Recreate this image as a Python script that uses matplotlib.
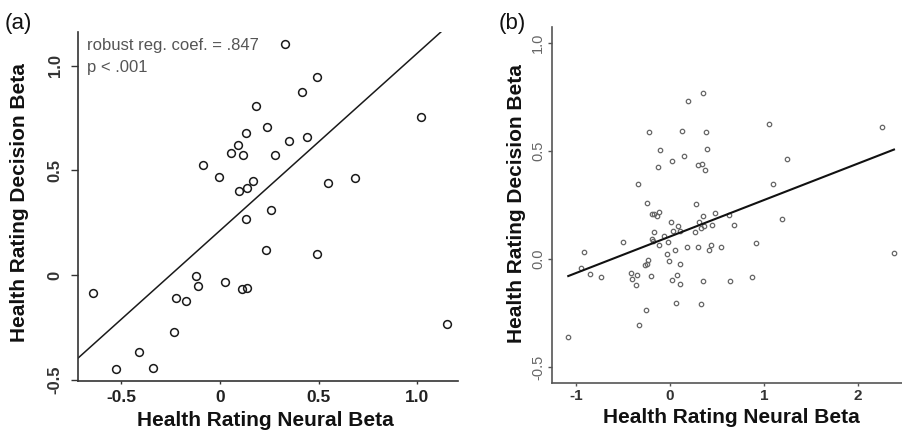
import matplotlib
matplotlib.use("Agg")
import matplotlib.pyplot as plt

plt.rcParams['font.family'] = ['Liberation Sans', 'DejaVu Sans']

# panel (a): health rating neural beta vs decision beta
a_x = [0.329, 0.493, 0.416, 0.182, 1.017, 0.237, 0.130, 0.441, 0.351, 0.090,
       0.054, 0.118, 0.280, -0.088, -0.007, 0.686, 0.549, 0.167, 0.135, 0.095,
       0.257, 0.130, 0.232, 0.492, -0.120, -0.112, 0.025, -0.645, 0.112, 0.137,
       -0.225, -0.174, 1.149, -0.235, -0.411, -0.527, -0.341]
a_y = [1.102, 0.946, 0.876, 0.806, 0.753, 0.706, 0.678, 0.658, 0.639, 0.623,
       0.583, 0.572, 0.572, 0.524, 0.468, 0.462, 0.438, 0.449, 0.414, 0.403,
       0.309, 0.266, 0.118, 0.099, -0.005, -0.053, -0.033, -0.086, -0.067, -0.064,
       -0.108, -0.123, -0.233, -0.274, -0.368, -0.448, -0.444]
a_slope = 0.847
a_intercept = 0.213

# panel (b)
b_x = [0.351, 0.195, 1.053, 2.259, -0.227, 0.124, 0.380, -0.106, 0.390, 1.243,
       0.019, 0.154, 0.301, 0.337, 0.372, -0.124, -0.343, 1.098, -0.241, 0.273,
       -0.195, -0.167, -0.141, -0.120, 0.354, 0.476, 0.628, 1.191, 0.011, 0.090,
       0.312, 0.333, 0.362, 0.444, 0.676, -0.165, 0.030, 0.106, 0.269, -0.500,
       -0.191, -0.181, -0.066, -0.018, -0.122, -0.912, -0.027, 0.053, 0.178, 0.301,
       0.436, 0.418, 0.545, 0.912, 2.383, -0.229, -0.248, -0.261, -0.009, 0.106,
       -0.950, -0.849, -0.736, -0.412, -0.351, -0.399, -0.202, 0.074, 0.024, 0.106,
       -0.359, 0.356, 0.638, 0.872, 0.066, 0.333, -0.250, -0.332, -1.082]
b_y = [0.770, 0.733, 0.623, 0.609, 0.589, 0.594, 0.588, 0.506, 0.509, 0.462,
       0.452, 0.475, 0.434, 0.441, 0.412, 0.427, 0.349, 0.346, 0.259, 0.256,
       0.208, 0.207, 0.199, 0.216, 0.197, 0.213, 0.202, 0.187, 0.169, 0.155,
       0.173, 0.144, 0.152, 0.156, 0.159, 0.126, 0.131, 0.131, 0.127, 0.080,
       0.091, 0.085, 0.106, 0.077, 0.066, 0.032, 0.025, 0.040, 0.056, 0.056,
       0.065, 0.043, 0.054, 0.074, 0.026, -0.004, -0.021, -0.028, -0.011, -0.023,
       -0.040, -0.071, -0.085, -0.067, -0.073, -0.091, -0.079, -0.074, -0.097, -0.116,
       -0.120, -0.103, -0.104, -0.083, -0.205, -0.207, -0.237, -0.304, -0.361]
b_slope = 0.169
b_intercept = 0.104

a_xticks = [-0.5, 0, 0.5, 1.0]
a_xticklabels = ['-0.5', '0', '0.5', '1.0']
a_yticks = [-0.5, 0, 0.5, 1.0]
a_yticklabels = ['-0.5', '0', '0.5', '1.0']
b_xticks = [-1, 0, 1, 2]
b_yticks = [-0.5, 0.0, 0.5, 1.0]
b_yticklabels = ['-0.5', '0.0', '0.5', '1.0']

xlabel = 'Health Rating Neural Beta'
ylabel = 'Health Rating Decision Beta'

fig = plt.figure(figsize=(9.03, 4.30), dpi=100)

# ---- panel (a) ----
ax1 = fig.add_axes([0.0864, 0.114, 0.4208, 0.8116])
ax1.set_xlim(-0.72, 1.206)
ax1.set_ylim(-0.506, 1.161)
ax1.plot(a_x, a_y, 'o', mfc='none', mec='#1a1a1a', ms=5.6, mew=1.1, clip_on=False)
xl = ax1.get_xlim()
ax1.plot(xl, [a_intercept + a_slope * v for v in xl], color='#1a1a1a', lw=1.1)
for s in ['top', 'right']:
    ax1.spines[s].set_visible(False)
for s in ['left', 'bottom']:
    ax1.spines[s].set_color('#333333')
    ax1.spines[s].set_linewidth(1.2)
ax1.set_xticks(a_xticks)
ax1.set_xticklabels(a_xticklabels, fontsize=12.5, fontweight='bold')
ax1.set_yticks(a_yticks)
ax1.set_yticklabels(a_yticklabels, fontsize=12, fontweight='bold', rotation=90, va='center')
ax1.tick_params(axis='x', length=2.5, width=1, colors='#333333', pad=4)
ax1.tick_params(axis='y', length=5, width=1, colors='#333333', pad=6)
for t in ax1.get_xticklabels():
    t.set_color('#222222')
for t in ax1.get_yticklabels():
    t.set_color('#333333')
ax1.set_xlabel(xlabel, fontsize=15, fontweight='bold', color='#111111')
ax1.set_ylabel(ylabel, fontsize=15, fontweight='bold', color='#111111')
ax1.xaxis.set_label_coords(0.492, -0.112)
ax1.xaxis.label.set_va('center')
ax1.yaxis.set_label_coords(-0.153, 0.51)
ax1.yaxis.label.set_va('center')
ax1.text(0.024, 0.96, 'robust reg. coef. = .847', transform=ax1.transAxes,
         fontsize=12, color='#555555', va='center', ha='left')
ax1.text(0.024, 0.897, 'p < .001', transform=ax1.transAxes,
         fontsize=12, color='#555555', va='center', ha='left')

# ---- panel (b) ----
ax2 = fig.add_axes([0.6113, 0.1093, 0.3887, 0.8279])
ax2.set_xlim(-1.255, 2.479)
ax2.set_ylim(-0.574, 1.074)
ax2.plot(b_x, b_y, 'o', mfc='none', mec='#666666', ms=3.2, mew=0.9)
bx = [min(b_x), max(b_x)]
ax2.plot(bx, [b_intercept + b_slope * v for v in bx], color='#111111', lw=1.5)
for s in ['top', 'right']:
    ax2.spines[s].set_visible(False)
for s in ['left', 'bottom']:
    ax2.spines[s].set_color('#555555')
    ax2.spines[s].set_linewidth(1.2)
ax2.set_xticks(b_xticks)
ax2.set_xticklabels([str(v) for v in b_xticks], fontsize=11, fontweight='bold')
ax2.set_yticks(b_yticks)
ax2.set_yticklabels(b_yticklabels, fontsize=10.5, rotation=90, va='center')
ax2.tick_params(axis='x', length=2.5, width=1, colors='#555555', pad=2)
ax2.tick_params(axis='y', length=3, width=1, colors='#555555', pad=2)
for t in ax2.get_xticklabels():
    t.set_color('#333333')
for t in ax2.get_yticklabels():
    t.set_color('#666666')
ax2.set_xlabel(xlabel, fontsize=15, fontweight='bold', color='#111111')
ax2.set_ylabel(ylabel, fontsize=15, fontweight='bold', color='#111111')
ax2.xaxis.set_label_coords(0.51, -0.098)
ax2.xaxis.label.set_va('center')
ax2.yaxis.set_label_coords(-0.1, 0.503)
ax2.yaxis.label.set_va('center')

fig.text(5 / 903, 1 - 24 / 430, '(a)', fontsize=16, va='center', ha='left', color='#111111')
fig.text(499 / 903, 1 - 24 / 430, '(b)', fontsize=16, va='center', ha='left', color='#111111')

fig.savefig('out.png', dpi=100)
